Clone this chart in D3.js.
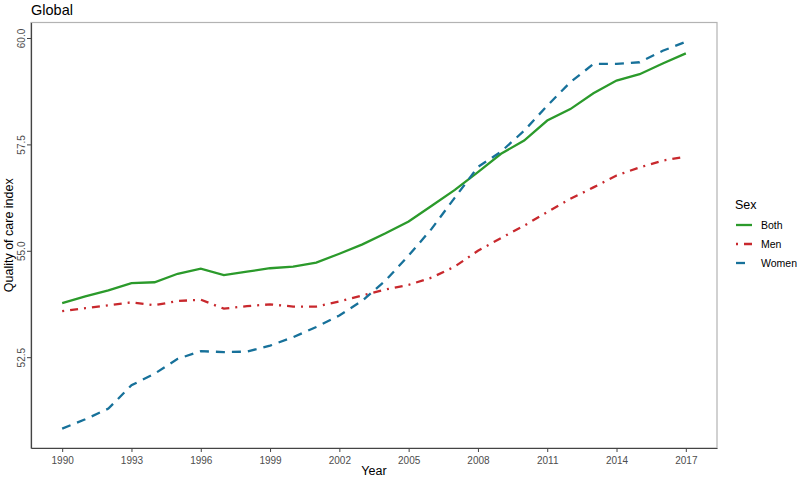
<!DOCTYPE html>
<html>
<head>
<meta charset="utf-8">
<script src="https://cdn.jsdelivr.net/npm/d3@7"></script>
<style>
  body { margin: 0; background: #fff; }
  svg { display: block; font-family: "Liberation Sans", Arial, sans-serif; }
</style>
</head>
<body>
<svg width="797" height="478"></svg>
<script>
// values
const years = d3.range(1990, 2018)
const both = [53.77, 53.93, 54.07, 54.24, 54.26, 54.46, 54.58, 54.43, 54.51, 54.59,
  54.63, 54.72, 54.93, 55.15, 55.41, 55.69, 56.06, 56.43, 56.85, 57.28,
  57.59, 58.06, 58.33, 58.70, 59.00, 59.15, 59.40, 59.64]
const men = [53.58, 53.65, 53.72, 53.79, 53.72, 53.82, 53.85, 53.64, 53.70, 53.74,
  53.69, 53.69, 53.81, 53.95, 54.09, 54.20, 54.37, 54.63, 55.00, 55.30,
  55.59, 55.91, 56.22, 56.49, 56.77, 56.96, 57.12, 57.21]
const women = [50.82, 51.04, 51.29, 51.84, 52.11, 52.46, 52.64, 52.62, 52.63, 52.77,
  52.97, 53.21, 53.48, 53.83, 54.30, 54.89, 55.52, 56.25, 56.97, 57.33,
  57.82, 58.41, 58.96, 59.39, 59.39, 59.43, 59.70, 59.91]
const xTicks = [1990, 1993, 1996, 1999, 2002, 2005, 2008, 2011, 2014, 2017]
const yTicks = [52.5, 55.0, 57.5, 60.0]

const series = [
  { name: "Both", values: both, color: "#2b9a2b", dash: null },
  { name: "Men", values: men, color: "#c8282d", dash: "2,6,8,6" },
  { name: "Women", values: women, color: "#17719a", dash: "9,7" }
]

const svg = d3.select('svg')
const panel = { left: 31, right: 717, top: 22.5, bottom: 448 }

// ggplot style 5% expansion
const xPad = (2017 - 1990) * 0.05
const allY = both.concat(men, women)
const yMin = d3.min(allY), yMax = d3.max(allY)
const yPad = (yMax - yMin) * 0.05

const x = d3.scaleLinear().domain([1990 - xPad, 2017 + xPad]).range([panel.left, panel.right])
const y = d3.scaleLinear().domain([yMin - yPad, yMax + yPad]).range([panel.bottom, panel.top])

// panel border
svg.append('rect')
  .attr('x', panel.left).attr('y', panel.top)
  .attr('width', panel.right - panel.left).attr('height', panel.bottom - panel.top)
  .attr('fill', 'none').attr('stroke', '#b3b3b3').attr('stroke-width', 1.2)

// x axis
const gx = svg.append('g')
  .attr('transform', `translate(0,${panel.bottom})`)
  .call(d3.axisBottom(x).tickValues(xTicks).tickFormat(d3.format('d')).tickSize(4).tickSizeOuter(0))
gx.select('.domain').attr('stroke', '#444').attr('stroke-width', 1.2)
gx.selectAll('.tick line').attr('stroke', '#444')
gx.selectAll('.tick text').attr('fill', '#4d4d4d').attr('font-size', 10).attr('dy', '0.9em')
  .attr('font-family', '"Liberation Sans", Arial, sans-serif')

// y axis
const gy = svg.append('g')
  .attr('transform', `translate(${panel.left},0)`)
  .call(d3.axisLeft(y).tickValues(yTicks).tickFormat(d3.format('.1f')).tickSize(4).tickSizeOuter(0))
gy.select('.domain').attr('stroke', '#444').attr('stroke-width', 1.2)
gy.selectAll('.tick line').attr('stroke', '#444')
gy.selectAll('.tick text')
  .attr('fill', '#4d4d4d').attr('font-size', 10)
  .attr('font-family', '"Liberation Sans", Arial, sans-serif')
  .attr('x', null).attr('dy', null)
  .attr('text-anchor', 'middle')
  .attr('transform', 'translate(-6,0) rotate(-90)')

// lines
const line = d3.line()
  .x((d, i) => x(years[i]))
  .y(d => y(d))

svg.append('g').selectAll('path')
  .data(series)
  .enter()
  .append('path')
  .attr('d', d => line(d.values))
  .attr('fill', 'none')
  .attr('stroke', d => d.color)
  .attr('stroke-width', 2.3)
  .attr('stroke-dasharray', d => d.dash)

// titles
svg.append('text')
  .attr('x', panel.left).attr('y', 15)
  .attr('font-size', 14.5).attr('fill', '#000')
  .text('Global')

svg.append('text')
  .attr('x', (panel.left + panel.right) / 2).attr('y', 475)
  .attr('text-anchor', 'middle').attr('font-size', 12.5)
  .text('Year')

svg.append('text')
  .attr('transform', `translate(13,${(panel.top + panel.bottom) / 2}) rotate(-90)`)
  .attr('text-anchor', 'middle').attr('font-size', 12.5)
  .text('Quality of care index')

// legend
const legend = svg.append('g').attr('transform', 'translate(735,205)')
legend.append('text')
  .attr('x', 0).attr('y', 4).attr('font-size', 12.5)
  .text('Sex')

const items = legend.selectAll('.item')
  .data(series)
  .enter()
  .append('g')
  .attr('class', 'item')
  .attr('transform', (d, i) => `translate(0,${20 + i * 19})`)

items.append('line')
  .attr('x1', 1).attr('x2', 17).attr('y1', 0).attr('y2', 0)
  .attr('stroke', d => d.color).attr('stroke-width', 2.3)
  .attr('stroke-dasharray', d => d.dash)

items.append('text')
  .attr('x', 26).attr('y', 0).attr('dy', '0.35em')
  .attr('font-size', 10.5)
  .text(d => d.name)
</script>
</body>
</html>
